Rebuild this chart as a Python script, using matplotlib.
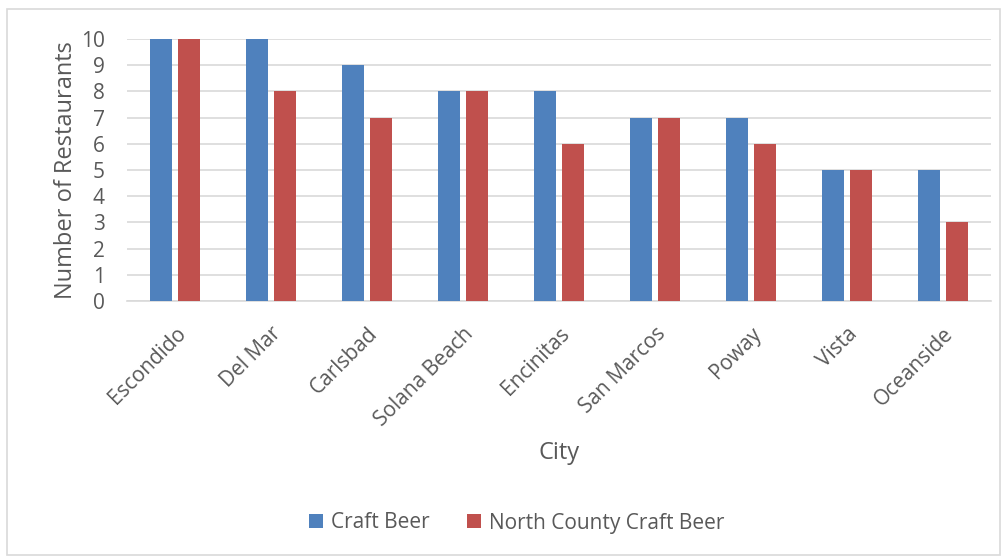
import numpy as np
import matplotlib.pyplot as plt
from matplotlib.patches import Rectangle

plt.rcParams['font.family'] = ['Open Sans', 'DejaVu Sans']

cities = ['Escondido', 'Del Mar', 'Carlsbad', 'Solana Beach', 'Encinitas',
          'San Marcos', 'Poway', 'Vista', 'Oceanside']
craft_beer = [10, 10, 9, 8, 8, 7, 7, 5, 5]
north_county = [10, 8, 7, 8, 6, 7, 6, 5, 3]

text_col = '#595959'
grid_col = '#d9d9d9'

fig = plt.figure(figsize=(10.04, 5.57), dpi=100)
fig.patches.append(Rectangle((7 / 1004, 2 / 557), 993 / 1004, 546 / 557,
                             transform=fig.transFigure, fill=False,
                             edgecolor=grid_col, linewidth=1.2))
ax = fig.add_axes([127 / 1004, 1 - 301 / 557, 864 / 1004, 262 / 557])

x = np.arange(len(cities))
w = 0.23
ax.bar(x - 0.145, craft_beer, w, color='#4f81bd', label='Craft Beer', zorder=3)
ax.bar(x + 0.145, north_county, w, color='#c0504d', label='North County Craft Beer', zorder=3)

ax.set_xlim(-0.5, len(cities) - 0.5)
ax.set_ylim(0, 10)
ax.set_yticks(range(0, 11))
ax.yaxis.grid(True, color=grid_col, linewidth=1.2, zorder=0)
for s in ['top', 'right', 'left']:
    ax.spines[s].set_visible(False)
ax.spines['bottom'].set_color(grid_col)
ax.spines['bottom'].set_linewidth(1.2)
ax.tick_params(axis='both', length=0, labelsize=15, labelcolor=text_col)
ax.tick_params(axis='y', pad=16)
ax.set_xticks(x)
ax.set_xticklabels(cities, rotation=45, ha='right', rotation_mode='anchor')
ax.tick_params(axis='x', pad=16)

ax.set_ylabel('Number of Restaurants', fontsize=17, color=text_col, labelpad=2)
ax.set_xlabel('City', fontsize=17, color=text_col, labelpad=8)

fig.legend(loc='center', bbox_to_anchor=(0.515, 1 - 523 / 557), ncol=2,
           frameon=False, fontsize=15, labelcolor=text_col, handlelength=0.65,
           handleheight=0.65, columnspacing=1.8, handletextpad=0.4)

fig.savefig('out.png', dpi=100)
